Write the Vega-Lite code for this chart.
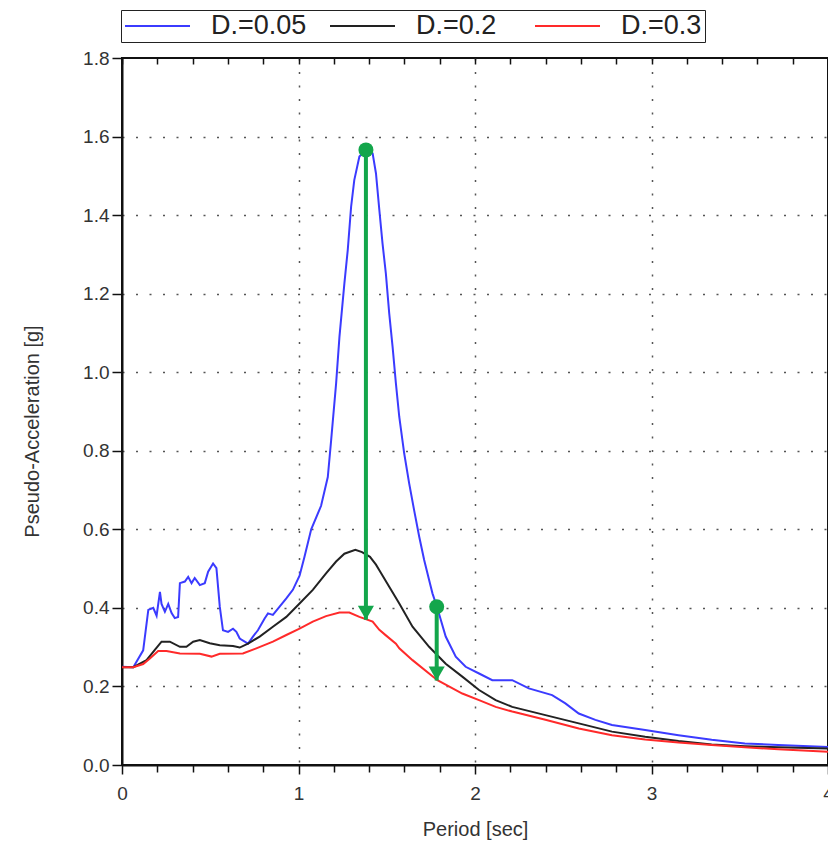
{
  "$schema": "https://vega.github.io/schema/vega-lite/v6.json",
  "width": 706,
  "height": 707,
  "autosize": {"type": "none"},
  "padding": {"left": 122, "top": 58, "right": 0, "bottom": 92},
  "background": "white",
  "config": {"view": {"stroke": "#111", "strokeWidth": 2}, "font": "Liberation Sans"},
  "datasets": {
    "curves": [
      {"series": "D.=0.05", "period": 0, "accel": 0.25},
      {"series": "D.=0.05", "period": 0.064, "accel": 0.249},
      {"series": "D.=0.05", "period": 0.12, "accel": 0.292},
      {"series": "D.=0.05", "period": 0.149, "accel": 0.395},
      {"series": "D.=0.05", "period": 0.177, "accel": 0.4},
      {"series": "D.=0.05", "period": 0.196, "accel": 0.38},
      {"series": "D.=0.05", "period": 0.215, "accel": 0.441},
      {"series": "D.=0.05", "period": 0.224, "accel": 0.41},
      {"series": "D.=0.05", "period": 0.243, "accel": 0.39},
      {"series": "D.=0.05", "period": 0.262, "accel": 0.41},
      {"series": "D.=0.05", "period": 0.281, "accel": 0.387},
      {"series": "D.=0.05", "period": 0.299, "accel": 0.374},
      {"series": "D.=0.05", "period": 0.318, "accel": 0.377},
      {"series": "D.=0.05", "period": 0.328, "accel": 0.463},
      {"series": "D.=0.05", "period": 0.356, "accel": 0.467},
      {"series": "D.=0.05", "period": 0.375, "accel": 0.479},
      {"series": "D.=0.05", "period": 0.394, "accel": 0.463},
      {"series": "D.=0.05", "period": 0.412, "accel": 0.476},
      {"series": "D.=0.05", "period": 0.441, "accel": 0.458},
      {"series": "D.=0.05", "period": 0.469, "accel": 0.463},
      {"series": "D.=0.05", "period": 0.488, "accel": 0.492},
      {"series": "D.=0.05", "period": 0.516, "accel": 0.513},
      {"series": "D.=0.05", "period": 0.535, "accel": 0.501},
      {"series": "D.=0.05", "period": 0.554, "accel": 0.403},
      {"series": "D.=0.05", "period": 0.572, "accel": 0.343},
      {"series": "D.=0.05", "period": 0.601, "accel": 0.339},
      {"series": "D.=0.05", "period": 0.629, "accel": 0.347},
      {"series": "D.=0.05", "period": 0.648, "accel": 0.339},
      {"series": "D.=0.05", "period": 0.667, "accel": 0.322},
      {"series": "D.=0.05", "period": 0.714, "accel": 0.309},
      {"series": "D.=0.05", "period": 0.742, "accel": 0.327},
      {"series": "D.=0.05", "period": 0.77, "accel": 0.343},
      {"series": "D.=0.05", "period": 0.808, "accel": 0.373},
      {"series": "D.=0.05", "period": 0.827, "accel": 0.386},
      {"series": "D.=0.05", "period": 0.855, "accel": 0.382},
      {"series": "D.=0.05", "period": 0.893, "accel": 0.403},
      {"series": "D.=0.05", "period": 0.931, "accel": 0.424},
      {"series": "D.=0.05", "period": 0.968, "accel": 0.446},
      {"series": "D.=0.05", "period": 1.006, "accel": 0.482},
      {"series": "D.=0.05", "period": 1.034, "accel": 0.53},
      {"series": "D.=0.05", "period": 1.072, "accel": 0.6},
      {"series": "D.=0.05", "period": 1.128, "accel": 0.66},
      {"series": "D.=0.05", "period": 1.166, "accel": 0.733},
      {"series": "D.=0.05", "period": 1.185, "accel": 0.827},
      {"series": "D.=0.05", "period": 1.213, "accel": 0.971},
      {"series": "D.=0.05", "period": 1.232, "accel": 1.09},
      {"series": "D.=0.05", "period": 1.26, "accel": 1.226},
      {"series": "D.=0.05", "period": 1.279, "accel": 1.311},
      {"series": "D.=0.05", "period": 1.298, "accel": 1.421},
      {"series": "D.=0.05", "period": 1.316, "accel": 1.489},
      {"series": "D.=0.05", "period": 1.345, "accel": 1.549},
      {"series": "D.=0.05", "period": 1.382, "accel": 1.566},
      {"series": "D.=0.05", "period": 1.42, "accel": 1.557},
      {"series": "D.=0.05", "period": 1.439, "accel": 1.506},
      {"series": "D.=0.05", "period": 1.458, "accel": 1.413},
      {"series": "D.=0.05", "period": 1.476, "accel": 1.328},
      {"series": "D.=0.05", "period": 1.495, "accel": 1.251},
      {"series": "D.=0.05", "period": 1.514, "accel": 1.15},
      {"series": "D.=0.05", "period": 1.533, "accel": 1.065},
      {"series": "D.=0.05", "period": 1.552, "accel": 0.971},
      {"series": "D.=0.05", "period": 1.571, "accel": 0.886},
      {"series": "D.=0.05", "period": 1.599, "accel": 0.793},
      {"series": "D.=0.05", "period": 1.627, "accel": 0.717},
      {"series": "D.=0.05", "period": 1.655, "accel": 0.649},
      {"series": "D.=0.05", "period": 1.684, "accel": 0.581},
      {"series": "D.=0.05", "period": 1.712, "accel": 0.522},
      {"series": "D.=0.05", "period": 1.74, "accel": 0.471},
      {"series": "D.=0.05", "period": 1.759, "accel": 0.437},
      {"series": "D.=0.05", "period": 1.787, "accel": 0.399},
      {"series": "D.=0.05", "period": 1.834, "accel": 0.327},
      {"series": "D.=0.05", "period": 1.891, "accel": 0.276},
      {"series": "D.=0.05", "period": 1.947, "accel": 0.25},
      {"series": "D.=0.05", "period": 2.023, "accel": 0.233},
      {"series": "D.=0.05", "period": 2.098, "accel": 0.216},
      {"series": "D.=0.05", "period": 2.211, "accel": 0.216},
      {"series": "D.=0.05", "period": 2.305, "accel": 0.195},
      {"series": "D.=0.05", "period": 2.437, "accel": 0.178},
      {"series": "D.=0.05", "period": 2.512, "accel": 0.157},
      {"series": "D.=0.05", "period": 2.588, "accel": 0.131},
      {"series": "D.=0.05", "period": 2.682, "accel": 0.115},
      {"series": "D.=0.05", "period": 2.776, "accel": 0.102},
      {"series": "D.=0.05", "period": 2.964, "accel": 0.089},
      {"series": "D.=0.05", "period": 3.153, "accel": 0.076},
      {"series": "D.=0.05", "period": 3.341, "accel": 0.064},
      {"series": "D.=0.05", "period": 3.529, "accel": 0.055},
      {"series": "D.=0.05", "period": 3.718, "accel": 0.051},
      {"series": "D.=0.05", "period": 4.0, "accel": 0.046},

      {"series": "D.=0.2", "period": 0, "accel": 0.249},
      {"series": "D.=0.2", "period": 0.064, "accel": 0.249},
      {"series": "D.=0.2", "period": 0.139, "accel": 0.267},
      {"series": "D.=0.2", "period": 0.186, "accel": 0.293},
      {"series": "D.=0.2", "period": 0.224, "accel": 0.314},
      {"series": "D.=0.2", "period": 0.271, "accel": 0.314},
      {"series": "D.=0.2", "period": 0.328, "accel": 0.301},
      {"series": "D.=0.2", "period": 0.365, "accel": 0.301},
      {"series": "D.=0.2", "period": 0.403, "accel": 0.314},
      {"series": "D.=0.2", "period": 0.441, "accel": 0.318},
      {"series": "D.=0.2", "period": 0.497, "accel": 0.31},
      {"series": "D.=0.2", "period": 0.554, "accel": 0.305},
      {"series": "D.=0.2", "period": 0.629, "accel": 0.303},
      {"series": "D.=0.2", "period": 0.667, "accel": 0.299},
      {"series": "D.=0.2", "period": 0.714, "accel": 0.309},
      {"series": "D.=0.2", "period": 0.78, "accel": 0.327},
      {"series": "D.=0.2", "period": 0.855, "accel": 0.352},
      {"series": "D.=0.2", "period": 0.931, "accel": 0.377},
      {"series": "D.=0.2", "period": 1.006, "accel": 0.411},
      {"series": "D.=0.2", "period": 1.081, "accel": 0.446},
      {"series": "D.=0.2", "period": 1.156, "accel": 0.488},
      {"series": "D.=0.2", "period": 1.213, "accel": 0.518},
      {"series": "D.=0.2", "period": 1.26, "accel": 0.538},
      {"series": "D.=0.2", "period": 1.322, "accel": 0.548},
      {"series": "D.=0.2", "period": 1.36, "accel": 0.542},
      {"series": "D.=0.2", "period": 1.405, "accel": 0.53},
      {"series": "D.=0.2", "period": 1.439, "accel": 0.51},
      {"series": "D.=0.2", "period": 1.458, "accel": 0.496},
      {"series": "D.=0.2", "period": 1.514, "accel": 0.454},
      {"series": "D.=0.2", "period": 1.571, "accel": 0.411},
      {"series": "D.=0.2", "period": 1.646, "accel": 0.352},
      {"series": "D.=0.2", "period": 1.74, "accel": 0.301},
      {"series": "D.=0.2", "period": 1.834, "accel": 0.258},
      {"series": "D.=0.2", "period": 1.928, "accel": 0.225},
      {"series": "D.=0.2", "period": 2.023, "accel": 0.191},
      {"series": "D.=0.2", "period": 2.117, "accel": 0.165},
      {"series": "D.=0.2", "period": 2.211, "accel": 0.148},
      {"series": "D.=0.2", "period": 2.399, "accel": 0.127},
      {"series": "D.=0.2", "period": 2.588, "accel": 0.106},
      {"series": "D.=0.2", "period": 2.776, "accel": 0.085},
      {"series": "D.=0.2", "period": 2.964, "accel": 0.072},
      {"series": "D.=0.2", "period": 3.153, "accel": 0.061},
      {"series": "D.=0.2", "period": 3.341, "accel": 0.052},
      {"series": "D.=0.2", "period": 3.529, "accel": 0.048},
      {"series": "D.=0.2", "period": 3.718, "accel": 0.045},
      {"series": "D.=0.2", "period": 4.0, "accel": 0.042},

      {"series": "D.=0.3", "period": 0, "accel": 0.249},
      {"series": "D.=0.3", "period": 0.064, "accel": 0.249},
      {"series": "D.=0.3", "period": 0.12, "accel": 0.257},
      {"series": "D.=0.3", "period": 0.158, "accel": 0.271},
      {"series": "D.=0.3", "period": 0.205, "accel": 0.29},
      {"series": "D.=0.3", "period": 0.252, "accel": 0.29},
      {"series": "D.=0.3", "period": 0.328, "accel": 0.284},
      {"series": "D.=0.3", "period": 0.441, "accel": 0.283},
      {"series": "D.=0.3", "period": 0.507, "accel": 0.276},
      {"series": "D.=0.3", "period": 0.554, "accel": 0.283},
      {"series": "D.=0.3", "period": 0.685, "accel": 0.284},
      {"series": "D.=0.3", "period": 0.761, "accel": 0.297},
      {"series": "D.=0.3", "period": 0.855, "accel": 0.314},
      {"series": "D.=0.3", "period": 0.931, "accel": 0.331},
      {"series": "D.=0.3", "period": 1.006, "accel": 0.347},
      {"series": "D.=0.3", "period": 1.081, "accel": 0.365},
      {"series": "D.=0.3", "period": 1.156, "accel": 0.379},
      {"series": "D.=0.3", "period": 1.232, "accel": 0.388},
      {"series": "D.=0.3", "period": 1.288, "accel": 0.388},
      {"series": "D.=0.3", "period": 1.345, "accel": 0.377},
      {"series": "D.=0.3", "period": 1.42, "accel": 0.365},
      {"series": "D.=0.3", "period": 1.458, "accel": 0.344},
      {"series": "D.=0.3", "period": 1.495, "accel": 0.33},
      {"series": "D.=0.3", "period": 1.552, "accel": 0.309},
      {"series": "D.=0.3", "period": 1.571, "accel": 0.297},
      {"series": "D.=0.3", "period": 1.646, "accel": 0.267},
      {"series": "D.=0.3", "period": 1.787, "accel": 0.216},
      {"series": "D.=0.3", "period": 1.928, "accel": 0.182},
      {"series": "D.=0.3", "period": 2.023, "accel": 0.165},
      {"series": "D.=0.3", "period": 2.117, "accel": 0.148},
      {"series": "D.=0.3", "period": 2.211, "accel": 0.136},
      {"series": "D.=0.3", "period": 2.399, "accel": 0.115},
      {"series": "D.=0.3", "period": 2.588, "accel": 0.093},
      {"series": "D.=0.3", "period": 2.776, "accel": 0.076},
      {"series": "D.=0.3", "period": 2.964, "accel": 0.065},
      {"series": "D.=0.3", "period": 3.153, "accel": 0.057},
      {"series": "D.=0.3", "period": 3.341, "accel": 0.051},
      {"series": "D.=0.3", "period": 3.529, "accel": 0.045},
      {"series": "D.=0.3", "period": 3.718, "accel": 0.04},
      {"series": "D.=0.3", "period": 4.0, "accel": 0.034}
    ],
    "ann": [
      {"period": 1.382, "accel": 1.566, "accel2": 0.37},
      {"period": 1.783, "accel": 0.403, "accel2": 0.215}
    ]
  },
  "layer": [
    {
      "data": {"name": "curves"},
      "mark": {"type": "line", "strokeWidth": 2, "interpolate": "linear"},
      "encoding": {
        "x": {
          "field": "period", "type": "quantitative",
          "scale": {"domain": [0, 4], "nice": false, "zero": false},
          "title": "Period [sec]",
          "axis": {
            "orient": "bottom",
            "values": [0, 0.2, 0.4, 0.6, 0.8, 1, 1.2, 1.4, 1.6, 1.8, 2, 2.2, 2.4, 2.6, 2.8, 3, 3.2, 3.4, 3.6, 3.8, 4],
            "labelExpr": "abs(datum.value - round(datum.value)) < 0.001 ? format(datum.value, 'd') : ''",
            "labelOverlap": false,
            "labelFlush": false,
            "labelFontSize": 19,
            "labelColor": "#333",
            "labelPadding": 10,
            "tickSize": {"condition": {"test": "abs(datum.value - round(datum.value)) < 0.001", "value": 9}, "value": 7},
            "tickColor": "#111",
            "tickWidth": 1.5,
            "domainColor": "#111",
            "domainWidth": 2,
            "grid": true,
            "gridDash": [2, 11.5],
            "gridColor": "#555",
            "gridWidth": 1.5,
            "gridOpacity": {"condition": {"test": "abs(datum.value - round(datum.value)) > 0.001 || datum.value < 0.5 || datum.value > 3.5", "value": 0}, "value": 1},
            "titleFontSize": 20,
            "titleFontWeight": "normal",
            "titleColor": "#333",
            "titlePadding": 16
          }
        },
        "y": {
          "field": "accel", "type": "quantitative",
          "scale": {"domain": [0, 1.8], "nice": false},
          "title": "Pseudo-Acceleration [g]",
          "axis": {
            "values": [0, 0.2, 0.4, 0.6, 0.8, 1, 1.2, 1.4, 1.6, 1.8],
            "format": ".1f",
            "labelFontSize": 19,
            "labelColor": "#333",
            "labelPadding": 3,
            "tickSize": 10,
            "tickColor": "#111",
            "tickWidth": 1.5,
            "domainColor": "#111",
            "domainWidth": 2,
            "grid": true,
            "gridDash": [2, 11.5],
            "gridColor": "#555",
            "gridWidth": 1.5,
            "gridOpacity": {"condition": {"test": "datum.value < 0.1 || datum.value > 1.7", "value": 0}, "value": 1},
            "titleFontSize": 20,
            "titleFontWeight": "normal",
            "titleColor": "#333",
            "titlePadding": 40,
            "titleY": 373
          }
        },
        "color": {
          "field": "series", "type": "nominal",
          "scale": {"domain": ["D.=0.05", "D.=0.2", "D.=0.3"], "range": ["#3b3bff", "#222222", "#ff2a2a"]},
          "legend": {
            "orient": "none",
            "legendX": -1,
            "legendY": -48,
            "direction": "horizontal",
            "title": null,
            "symbolType": "stroke",
            "symbolSize": 4225,
            "symbolStrokeWidth": 2,
            "clipHeight": 26,
            "labelFontSize": 27,
            "labelFont": "Liberation Sans",
            "labelColor": "#222",
            "labelOffset": 20,
            "columnPadding": 22,
            "gridAlign": "all",
            "padding": 3,
            "strokeColor": "#222",
            "fillColor": "white"
          }
        }
      }
    },
    {
      "data": {"name": "ann"},
      "mark": {"type": "rule", "color": "#13a64b", "strokeWidth": 4},
      "encoding": {
        "x": {
          "field": "period", "type": "quantitative",
          "scale": {"domain": [0, 4], "nice": false, "zero": false},
          "axis": {
            "orient": "top",
            "values": [0, 0.2, 0.4, 0.6, 0.8, 1, 1.2, 1.4, 1.6, 1.8, 2, 2.2, 2.4, 2.6, 2.8, 3, 3.2, 3.4, 3.6, 3.8, 4],
            "labels": false,
            "domain": false,
            "grid": false,
            "tickSize": 6,
            "offset": -6,
            "tickColor": "#111",
            "tickWidth": 1.5,
            "title": null
          }
        },
        "y": {"field": "accel", "type": "quantitative", "title": "Pseudo-Acceleration [g]"},
        "y2": {"field": "accel2"}
      }
    },
    {
      "data": {"name": "ann"},
      "mark": {"type": "point", "shape": "circle", "filled": true, "color": "#13a64b", "size": 225, "opacity": 1},
      "encoding": {
        "x": {"field": "period", "type": "quantitative", "axis": null},
        "y": {"field": "accel", "type": "quantitative", "title": "Pseudo-Acceleration [g]"}
      }
    },
    {
      "data": {"name": "ann"},
      "mark": {"type": "point", "shape": "triangle-down", "filled": true, "color": "#13a64b", "size": 260, "opacity": 1, "yOffset": -7},
      "encoding": {
        "x": {"field": "period", "type": "quantitative", "axis": null},
        "y": {"field": "accel2", "type": "quantitative", "title": "Pseudo-Acceleration [g]"}
      }
    }
  ],
  "resolve": {"axis": {"x": "independent"}}
}
